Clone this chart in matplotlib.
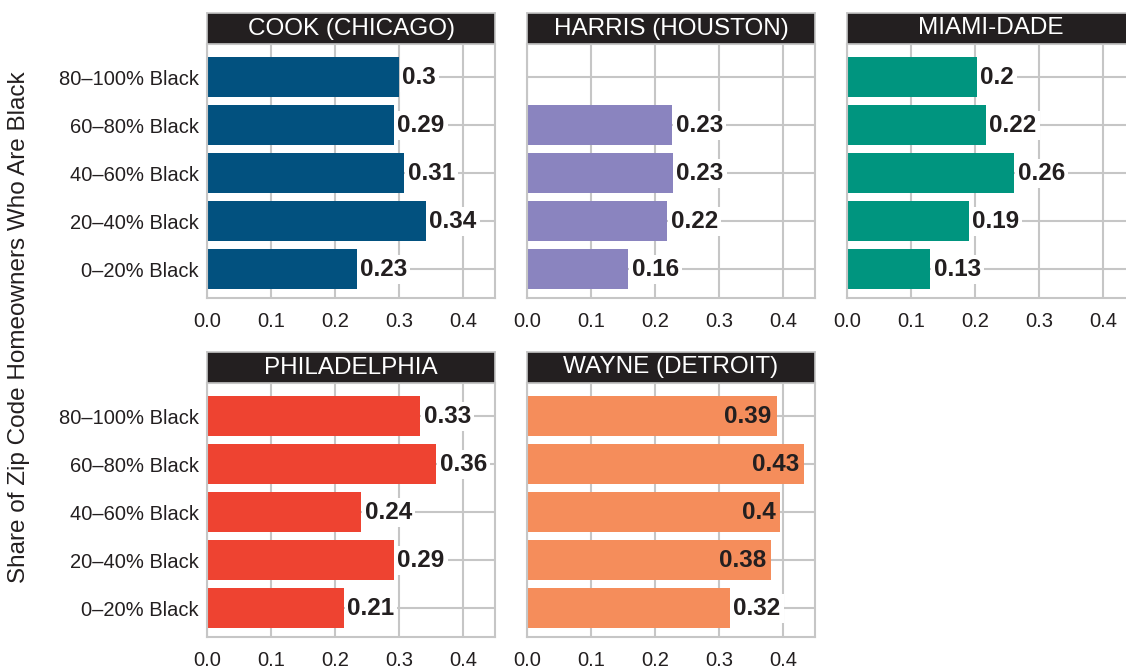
import matplotlib
matplotlib.use("Agg")
import matplotlib.pyplot as plt
import numpy as np

plt.rcParams['font.family'] = ['Liberation Sans', 'DejaVu Sans']

# categories, top to bottom
groups = ['80–100% Black', '60–80% Black', '40–60% Black', '20–40% Black', '0–20% Black']

counties = ['COOK (CHICAGO)', 'HARRIS (HOUSTON)', 'MIAMI-DADE', 'PHILADELPHIA', 'WAYNE (DETROIT)']
cook = [0.300, 0.292, 0.308, 0.342, 0.234]
harris = [np.nan, 0.227, 0.228, 0.219, 0.158]
miami = [0.203, 0.217, 0.261, 0.190, 0.130]
philly = [0.333, 0.358, 0.241, 0.292, 0.214]
wayne = [0.390, 0.433, 0.396, 0.381, 0.317]
series = [cook, harris, miami, philly, wayne]
colors = ['#02517F', '#8A84BF', '#00957F', '#EE4331', '#F58D5B']

x_ticks = [0.0, 0.1, 0.2, 0.3, 0.4]

W, H = 1126, 669
fig = plt.figure(figsize=(W / 100, H / 100), dpi=100)

grid_col = '#C6C6C6'
# panel boxes in pixels: left, top of plot area
lefts = [207, 527, 847]
tops = [44, 383]
pw, ph = 288, 254
strip_h = 31


def fmt(v):
    s = f"{v:.2f}".rstrip('0')
    return s


for i, (name, vals, col) in enumerate(zip(counties, series, colors)):
    r, c = divmod(i, 3)
    x0, y0 = lefts[c], tops[r]
    ax = fig.add_axes([x0 / W, 1 - (y0 + ph) / H, pw / W, ph / H])
    ypos = np.arange(len(groups))[::-1]
    ax.set_xlim(0, 0.45)
    ax.set_ylim(-0.6, 4.69)
    ax.set_axisbelow(True)
    ax.grid(True, color=grid_col, lw=1.5)
    ax.barh(ypos, vals, height=0.83, color=col, zorder=2)
    for y, v in zip(ypos, vals):
        if np.isnan(v):
            continue
        if v >= 0.37:
            # long bars: label sits inside the bar end
            ax.annotate(fmt(v), (v, y), xytext=(-3.5, 0), textcoords='offset points',
                        ha='right', va='center', fontsize=17.5, fontweight='bold',
                        color='#231F20', zorder=3)
        else:
            ax.annotate(fmt(v), (v, y), xytext=(2.5, 0), textcoords='offset points',
                        ha='left', va='center', fontsize=17.5, fontweight='bold',
                        color='#231F20', zorder=3,
                        bbox=dict(boxstyle='square,pad=0.12', fc='white', ec='none'))
    ax.set_xticks(x_ticks)
    ax.set_xticklabels([f"{t:.1f}" for t in x_ticks])
    ax.set_yticks(ypos)
    if c == 0:
        ax.set_yticklabels(groups)
    else:
        ax.set_yticklabels([])
    ax.tick_params(axis='both', length=0, labelsize=14.5, colors='#231F20')
    ax.tick_params(axis='x', pad=10)
    ax.tick_params(axis='y', pad=6)
    for sp in ax.spines.values():
        sp.set_color(grid_col)
        sp.set_linewidth(1.5)

    # facet strip
    sax = fig.add_axes([x0 / W, 1 - y0 / H, pw / W, strip_h / H])
    sax.set_facecolor('#231F20')
    sax.set_xticks([])
    sax.set_yticks([])
    for sp in sax.spines.values():
        sp.set_color(grid_col)
        sp.set_linewidth(1.2)
    sax.text(0.5, 0.5, name, ha='center', va='center', color='white',
             fontsize=17.5, transform=sax.transAxes)

fig.text(19 / W, 1 - 327 / H, 'Share of Zip Code Homeowners Who Are Black',
         rotation=90, ha='center', va='center', fontsize=17.5, color='#231F20')

fig.savefig('out.png', dpi=100)
